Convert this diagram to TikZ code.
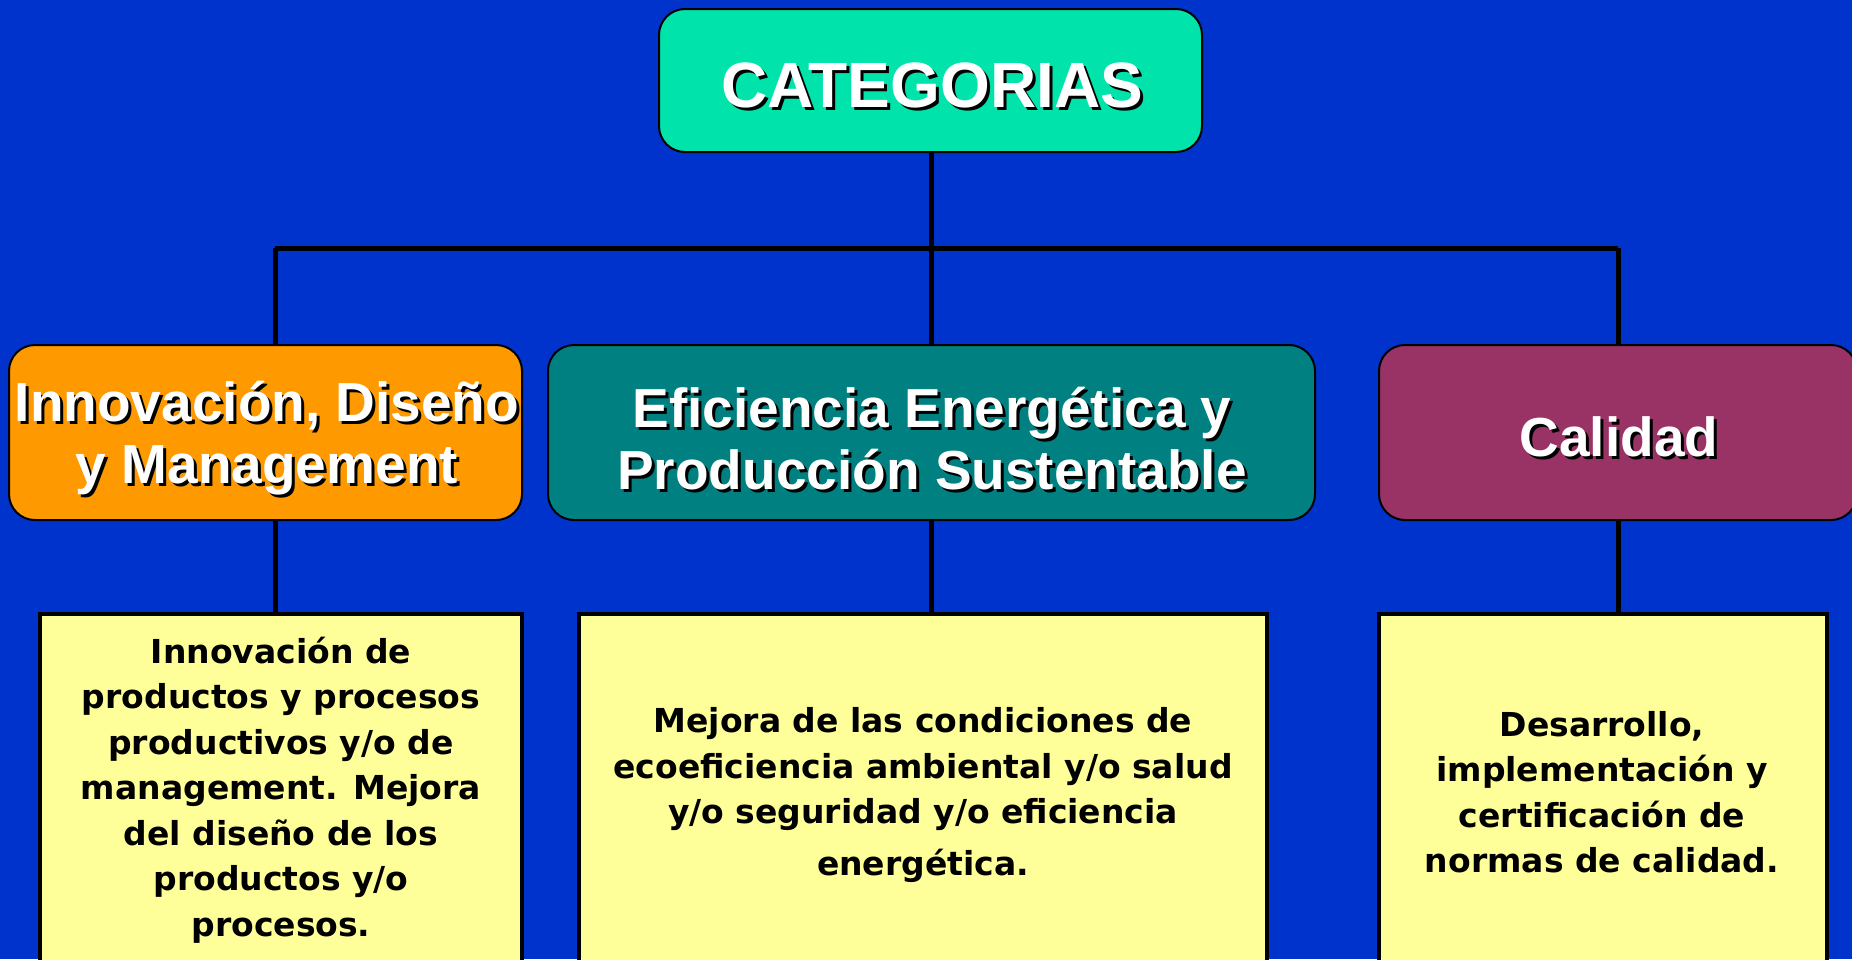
\documentclass[tikz,border=0pt]{standalone}
\usepackage{fontspec}
\setmainfont{Liberation Sans}
\newfontfamily\bodyfont{DejaVu Sans}
\definecolor{bgblue}{HTML}{0033CC}
\definecolor{catgreen}{HTML}{00E4AB}
\definecolor{orangebox}{HTML}{FF9900}
\definecolor{tealbox}{HTML}{008080}
\definecolor{plumbox}{HTML}{993366}
\definecolor{yellowbox}{HTML}{FFFF99}
\newcommand{\shd}[1]{\makebox[0pt][l]{\kern3pt\raisebox{-3pt}{\color{black}#1}}#1}
\tikzset{
  headbox/.style={draw=black, line width=2pt, rounded corners=26pt, inner sep=0pt},
  headtext/.style={inner sep=0pt, text=white, align=center,
    font=\bfseries\fontsize{55}{62}\selectfont},
  yellowrect/.style={draw=black, line width=4pt, fill=yellowbox, inner sep=0pt},
  bodytext/.style={align=center, inner sep=0pt, text=black,
    font=\bodyfont\bfseries\fontsize{33}{45.5}\selectfont},
  conn/.style={draw=black, line width=5pt}
}
\begin{document}
\begin{tikzpicture}[x=1pt,y=-1pt]
\useasboundingbox (0,0) rectangle (1852,959);
\clip (0,0) rectangle (1852,959);
\fill[bgblue] (0,0) rectangle (1852,959);

\node[headbox, fill=catgreen, minimum width=543pt, minimum height=143pt] (cat) at (930.5,80.5) {};
\node[headbox, fill=orangebox, minimum width=513pt, minimum height=175pt] (innov) at (265.5,432.5) {};
\node[headbox, fill=tealbox, minimum width=767pt, minimum height=175pt] (efic) at (931.5,432.5) {};
\node[headbox, fill=plumbox, minimum width=478pt, minimum height=175pt] (cali) at (1618,432.5) {};

\node[headtext, font=\bfseries\fontsize{64}{70}\selectfont] (catt) at (932,87) {\shd{CATEGORIAS}};
\node[headtext] (innovt) at (267,440) {\shd{Innovación, Diseño}\\\shd{y Management}};
\node[headtext] (efict) at (932,440) {\shd{Eficiencia Energética y}\\\shd{Producción Sustentable}};
\node[headtext] (calit) at (1619,438) {\shd{Calidad}};

\node[yellowrect, minimum width=482pt, minimum height=386pt] (yl) at (281,807) {};
\node[yellowrect, minimum width=688pt, minimum height=386pt] (ym) at (923,807) {};
\node[yellowrect, minimum width=448pt, minimum height=386pt] (yr) at (1603,807) {};

\coordinate (jm) at (931,248);
\coordinate (jl) at (275,248);
\coordinate (jr) at (1618,248);

\draw[conn] (cat.south -| jm) -- (jm);
\draw[conn] (jl) -- (jr);
\draw[conn] (jl) -- (jl |- innov.north);
\draw[conn] (jm) -- (jm |- efic.north);
\draw[conn] (jr) -- (jr |- cali.north);
\draw[conn] (jl |- innov.south) -- (jl |- yl.north);
\draw[conn] (jm |- efic.south) -- (jm |- ym.north);
\draw[conn] (jr |- cali.south) -- (jr |- yr.north);

\node[bodytext] (tl) at (281,790) {Innovación de\\productos y procesos\\productivos y/o de\\management. Mejora\\del diseño de los\\productos y/o\\procesos.};
\node[bodytext] (tm) at (923,795) {Mejora de las condiciones de\\ecoeficiencia ambiental y/o salud\\y/o seguridad y/o eficiencia\\[6pt]energética.};
\node[bodytext] (tr) at (1602,792) {Desarrollo,\\implementación y\\certificación de\\normas de calidad.};
\end{tikzpicture}
\end{document}
